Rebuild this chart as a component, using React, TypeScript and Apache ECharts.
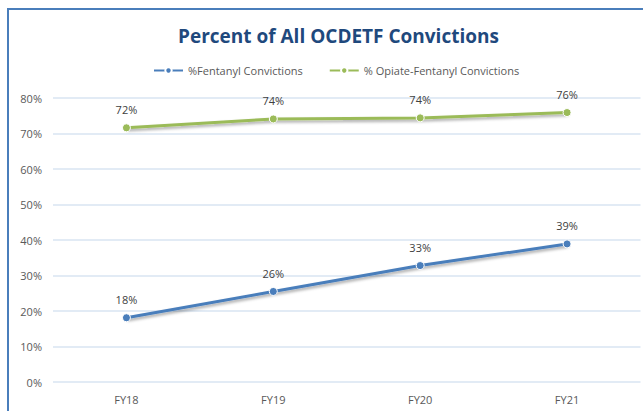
import React, { useEffect, useRef } from "react";
import * as echarts from "echarts";

const categories = ["FY18", "FY19", "FY20", "FY21"];
const fentanyl = [18.1, 25.5, 32.8, 38.9];
const opiateFentanyl = [71.6, 74.1, 74.4, 75.9];
const seriesNames = ["%Fentanyl Convictions", "% Opiate-Fentanyl Convictions"];
const titleText = "Percent of All OCDETF Convictions";

export default function App() {
  const ref = useRef<HTMLDivElement>(null);
  useEffect(() => {
    document.body.style.margin = "0";
    const chart = echarts.init(ref.current!, null, { renderer: "svg" });
    const font = "Open Sans, sans-serif";
    const mkSeries = (name: string, data: number[], color: string) => ({
      name,
      type: "line",
      data,
      symbol: "circle",
      symbolSize: 8,
      itemStyle: { color, borderColor: "#ffffff", borderWidth: 1 },
      lineStyle: {
        color,
        width: 3,
        shadowColor: "rgba(0,0,0,0.35)",
        shadowBlur: 3,
        shadowOffsetX: 1,
        shadowOffsetY: 2,
      },
      label: {
        show: true,
        position: "top",
        distance: 8,
        color: "#404040",
        fontSize: 11,
        fontFamily: font,
        formatter: (p: any) => Math.round(p.value) + "%",
      },
    });
    chart.setOption({
      animation: false,
      backgroundColor: "#ffffff",
      title: {
        text: titleText,
        left: 173,
        top: 21,
        textStyle: { color: "#1F497D", fontSize: 19, fontWeight: "bold", fontFamily: font },
      },
      legend: {
        top: 60,
        left: 148,
        itemWidth: 29,
        itemHeight: 8,
        itemGap: 26,
        textStyle: { color: "#595959", fontSize: 11, fontFamily: font },
        data: seriesNames,
      },
      graphic: [
        {
          type: "rect",
          shape: { x: 8, y: 9, width: 700, height: 500 },
          style: { fill: "none", stroke: "#4a7ebb", lineWidth: 2 },
          z: 10,
        },
      ],
      grid: { left: 53, right: 2.5, top: 98, bottom: 29 },
      xAxis: {
        type: "category",
        data: categories,
        boundaryGap: true,
        axisLine: { show: false },
        axisTick: { show: false },
        axisLabel: { color: "#595959", fontSize: 11, fontFamily: font, margin: 12 },
      },
      yAxis: {
        type: "value",
        min: 0,
        max: 80,
        interval: 10,
        axisLine: { show: false },
        axisTick: { show: false },
        splitLine: { lineStyle: { color: "#d9e4f2", width: 1.5 } },
        axisLabel: {
          color: "#595959",
          fontSize: 11,
          fontFamily: font,
          margin: 11,
          formatter: (v: number) => v + "%",
        },
      },
      series: [
        mkSeries(seriesNames[0], fentanyl, "#4a7ebb"),
        mkSeries(seriesNames[1], opiateFentanyl, "#9bbb59"),
      ],
    });
    return () => chart.dispose();
  }, []);
  return <div ref={ref} style={{ width: 643, height: 411 }} />;
}
